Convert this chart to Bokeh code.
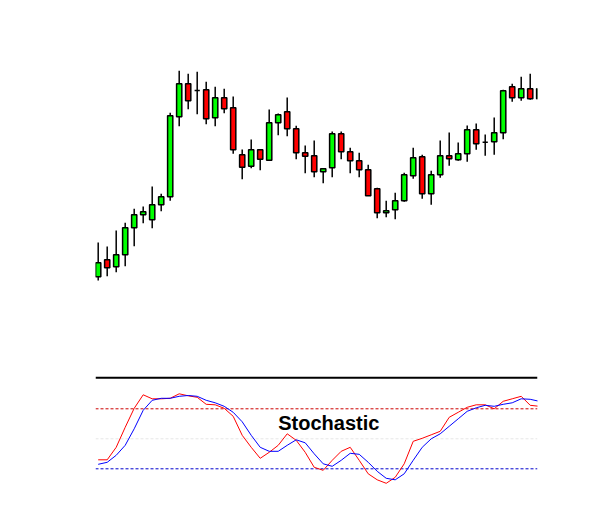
from bokeh.plotting import figure
from bokeh.layouts import column
from bokeh.models import Range1d, Span, Label, ColumnDataSource
from bokeh.embed import file_html
from bokeh.resources import INLINE

# ---- data ----
idx = list(range(50))
opens = [23.7, 40.7, 33.7, 45.7, 72.7, 85.7, 80.7, 95.7, 103.7, 183.7,
         216.7, 210.0, 210.7, 182.7, 202.7, 192.7, 145.7, 134.3, 150.7, 140.3,
         177.7, 188.7, 171.7, 147.7, 144.7, 128.7, 132.7, 166.7, 148.7, 139.7,
         130.7, 111.7, 87.7, 90.7, 99.7, 124.7, 143.7, 106.7, 125.7, 144.7,
         140.7, 146.7, 170.7, 158.3, 158.7, 167.7, 213.7, 202.7, 211.7, 201.7]
closes = [37.7, 32.7, 45.7, 72.7, 85.7, 88.7, 95.7, 103.7, 184.7, 216.7,
          199.7, 210.0, 181.7, 202.7, 191.7, 150.7, 133.3, 150.7, 141.3, 177.7,
          185.7, 171.7, 147.7, 144.3, 128.7, 131.7, 166.7, 148.7, 139.7, 130.7,
          104.7, 87.7, 89.7, 99.7, 125.7, 142.7, 106.7, 125.7, 144.7, 141.7,
          146.7, 170.7, 156.7, 158.3, 167.7, 209.7, 202.7, 211.7, 201.7, 211.7]
highs = [58.0, 54.0, 70.0, 77.7, 91.7, 94.0, 114.0, 106.7, 187.7, 229.7,
         226.7, 228.7, 218.7, 213.7, 211.7, 204.0, 151.0, 161.0, 150.7, 191.0,
         187.0, 203.0, 174.7, 155.0, 160.0, 131.7, 169.0, 169.0, 152.7, 147.7,
         135.7, 112.7, 99.7, 107.7, 127.7, 152.7, 145.7, 129.7, 160.0, 168.0,
         158.0, 175.0, 177.0, 166.0, 183.0, 210.7, 216.7, 223.7, 226.7, 212.0]
lows = [20.0, 24.3, 28.3, 34.3, 54.3, 77.3, 72.3, 89.3, 99.7, 174.3,
        191.3, 186.3, 176.3, 174.3, 187.3, 146.7, 121.3, 132.3, 130.3, 140.3,
        165.3, 164.3, 141.3, 127.3, 123.3, 117.3, 123.3, 141.3, 127.3, 123.3,
        104.7, 82.3, 83.3, 81.3, 98.7, 121.7, 101.7, 95.7, 122.7, 134.7,
        139.7, 138.7, 150.7, 144.7, 145.7, 161.3, 198.7, 199.7, 200.7, 201.7]

pct_k = [29, 29, 41.5, 61.5, 80.5, 94, 90, 90, 90.5, 95,
         93, 91.5, 84.5, 84, 80.5, 72.5, 53.5, 41.5, 30.5, 36.5,
         43.5, 55, 48.5, 36.5, 21.5, 18.5, 28.5, 37.5, 41.5, 28.5,
         15, 9, 5.5, 11.5, 25, 47.5, 50.5, 54, 57.5, 71.5,
         76.5, 81.5, 84, 84, 80, 87.5, 90, 92.5, 83.5, 82.5]
pct_d = [24.5, 26.5, 33.5, 43.5, 60, 78.5, 88.5, 90.5, 90.5, 92.5,
         93.3, 92.5, 88.5, 86, 82.5, 76.5, 67, 53.5, 41.5, 37.5,
         37.5, 43.5, 49, 46, 35, 25, 22.5, 28.5, 35.5, 34.5,
         26.5, 17.5, 10.5, 9, 15, 28.5, 41.5, 50, 55, 62.5,
         70, 77.5, 81, 83.5, 82.5, 84.5, 86, 90, 89.5, 87.5]

overbought = 80
midline = 50
oversold = 20
panel_top = 111

UP = "#00ff00"
DOWN = "#ff0000"

colors = [UP if c >= o else DOWN for o, c in zip(opens, closes)]
src = ColumnDataSource(dict(x=idx, open=opens, close=closes, high=highs, low=lows, color=colors))

xr = Range1d(-0.3, 48.81)

p1 = figure(width=607, height=368, x_range=xr, y_range=Range1d(-68, 300),
            output_backend="svg", toolbar_location=None,
            x_axis_location=None, y_axis_location=None,
            min_border_left=95, min_border_right=70, min_border_top=0, min_border_bottom=0)
p1.outline_line_color = None
p1.grid.grid_line_color = None
p1.segment(x0="x", y0="low", x1="x", y1="high", source=src, line_color="black", line_width=1.5)
p1.vbar(x="x", width=0.58, top="open", bottom="close", source=src,
        fill_color="color", line_color="black", line_width=1.5)

p2 = figure(width=607, height=130, x_range=xr, y_range=Range1d(-9.7, 120.3),
            output_backend="svg", toolbar_location=None,
            x_axis_location=None, y_axis_location=None,
            min_border_left=95, min_border_right=70, min_border_top=0, min_border_bottom=0)
p2.outline_line_color = None
p2.grid.grid_line_color = None

p2.add_layout(Span(location=midline, dimension="width", line_color="#e6e6e6",
                   line_dash="3 2", line_width=1, level="underlay"))
p2.add_layout(Span(location=overbought, dimension="width", line_color="#cc0000",
                   line_dash="3 2", line_width=1, level="underlay"))
p2.add_layout(Span(location=oversold, dimension="width", line_color="#0000cc",
                   line_dash="3 2", line_width=1, level="underlay"))
p2.add_layout(Span(location=panel_top, dimension="width", line_color="black", line_width=2))

p2.line(idx, pct_k, line_color="#ff0000", line_width=1)
p2.line(idx, pct_d, line_color="#0000ff", line_width=1)

p2.add_layout(Label(x=20.0, y=65.5, text="Stochastic", text_font="Liberation Sans",
                    text_font_style="bold", text_font_size="20px",
                    text_baseline="alphabetic", text_align="left", text_color="black"))

layout = column(p1, p2, spacing=0)
open("out.html", "w").write(file_html(layout, INLINE))
